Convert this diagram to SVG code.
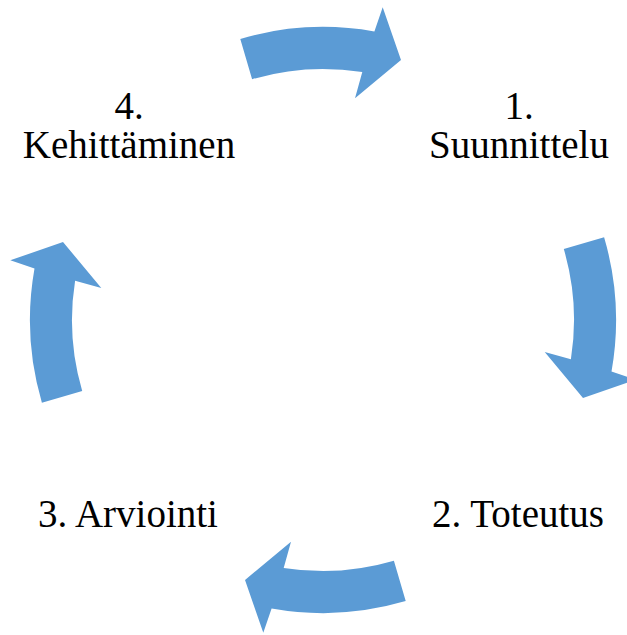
<svg xmlns="http://www.w3.org/2000/svg" xmlns:xlink="http://www.w3.org/1999/xlink" width="627" height="635" viewBox="0 0 627 635">
<style>
.arrow{fill:#5B9BD5;stroke:none}
text{font-family:'Liberation Serif','Times New Roman','DejaVu Serif',serif;font-size:39px;fill:#000;text-anchor:middle}
</style>
<defs>
<path id="arc" class="arrow" d="M 240.3 38.9 A 293 293 0 0 1 374.4 31.5 L 382.7 7.3 L 401 60 L 355 98.3 L 362.3 72.1 A 251 251 0 0 0 252.1 79.2 Z"/>
</defs>
<rect width="627" height="635" fill="#fff"/>
<g id="connectors">
<use xlink:href="#arc"/>
<use xlink:href="#arc" transform="rotate(90 323 320)"/>
<use xlink:href="#arc" transform="rotate(180 323 320)"/>
<use xlink:href="#arc" transform="rotate(270 323 320)"/>
</g>
<g id="node1" font-family="Liberation Serif, serif"><text x="519" y="119">1.</text><text x="519" y="158">Suunnittelu</text></g>
<g id="node2" font-family="Liberation Serif, serif"><text x="518" y="527">2. Toteutus</text></g>
<g id="node3" font-family="Liberation Serif, serif"><text x="128" y="527">3. Arviointi</text></g>
<g id="node4" font-family="Liberation Serif, serif"><text x="129" y="119">4.</text><text x="129" y="158">Kehittäminen</text></g>
</svg>
